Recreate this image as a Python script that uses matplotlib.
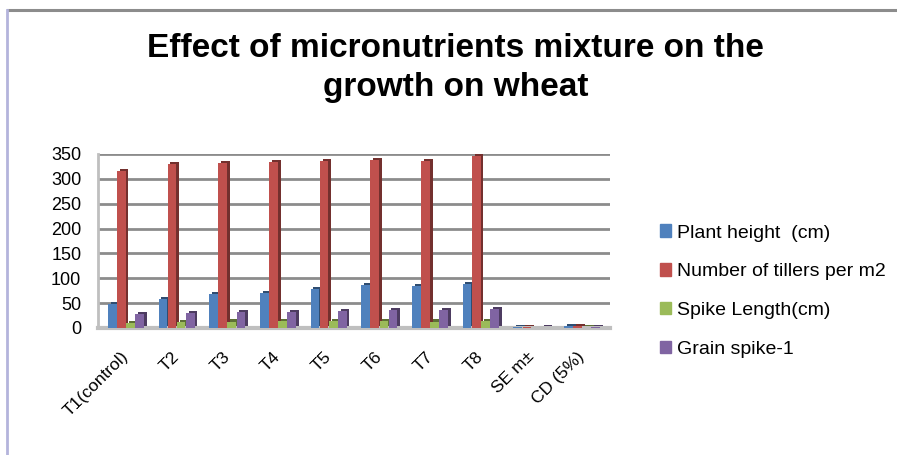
import numpy as np
import matplotlib.pyplot as plt
import matplotlib.patheffects as pe
from matplotlib.lines import Line2D
from matplotlib.colors import to_rgb

categories = ['T1(control)', 'T2', 'T3', 'T4', 'T5', 'T6', 'T7', 'T8', 'SE m±', 'CD (5%)']
plant_height = [48, 58, 68, 71, 79, 87, 85, 89, 1.5, 4.5]
tillers = [315, 330, 332, 334, 336, 338, 335, 345, 1.2, 3.5]
spike_length = [10, 12, 13, 14, 14, 14, 13, 14, 0.3, 0.9]
grain_spike = [28, 30, 32, 33, 35, 37, 37, 39, 1.0, 2.8]

series_names = ['Plant height  (cm)', 'Number of tillers per m2', 'Spike Length(cm)', 'Grain spike-1']
series_values = [plant_height, tillers, spike_length, grain_spike]
colors = ['#4f81bd', '#c0504d', '#9bbb59', '#8064a2']
yticks = [0, 50, 100, 150, 200, 250, 300, 350]

plt.rcParams['font.family'] = ['Liberation Sans', 'DejaVu Sans']

W, H = 897, 455
fig = plt.figure(figsize=(W / 100, H / 100), dpi=100)
fig.patch.set_facecolor('white')

# chart area border (top grey, left lavender)
fig.add_artist(Line2D([8 / W, 1], [1 - 10 / H] * 2, color='#8c8c8c', lw=2.2))
fig.add_artist(Line2D([7 / W] * 2, [0, 1 - 10 / H], color='#b4b4dc', lw=2))

ax = fig.add_axes([98 / W, 1 - 328 / H, 512 / W, 174 / H])
x = np.arange(len(categories))
w = 0.18
for i, (vals, col) in enumerate(zip(series_values, colors)):
    dark = tuple(c * 0.6 for c in to_rgb(col))
    ax.bar(x - 0.27 + i * w, vals, width=w * 0.95, color=col, zorder=3,
           path_effects=[pe.SimplePatchShadow(offset=(2, 1.5), shadow_rgbFace=dark, alpha=1),
                         pe.Normal()])

ax.set_xlim(-0.55, len(categories) - 0.45)
ax.set_ylim(0, 350)
ax.set_yticks(yticks)
ax.yaxis.grid(True, color='#8c8c8c', lw=2)
ax.set_axisbelow(True)
for s in ['top', 'right']:
    ax.spines[s].set_visible(False)
ax.spines['left'].set_color('#bfbfbf')
ax.spines['left'].set_linewidth(2)
ax.spines['bottom'].set_color('#bfbfbf')
ax.spines['bottom'].set_linewidth(3)
ax.tick_params(axis='y', length=0, labelsize=13, pad=12)
ax.tick_params(axis='x', length=0, labelsize=12.5, pad=15)
ax.set_xticks(x - 0.1)
ax.set_xticklabels(categories, rotation=45, ha='right', rotation_mode='anchor')

fig.text(0.508, 1 - 68 / H, 'Effect of micronutrients mixture on the\ngrowth on wheat',
         ha='center', va='center', fontsize=24, fontweight='bold', linespacing=1.3)

handles = [plt.Rectangle((0, 0), 1, 1, color=c) for c in colors]
fig.legend(handles, series_names, loc='upper left', bbox_to_anchor=(642 / W, 1 - 207 / H),
           frameon=False, fontsize=14, handlelength=0.6, handleheight=0.6,
           handletextpad=0.3, labelspacing=1.12)

fig.savefig('out.png', dpi=100)
